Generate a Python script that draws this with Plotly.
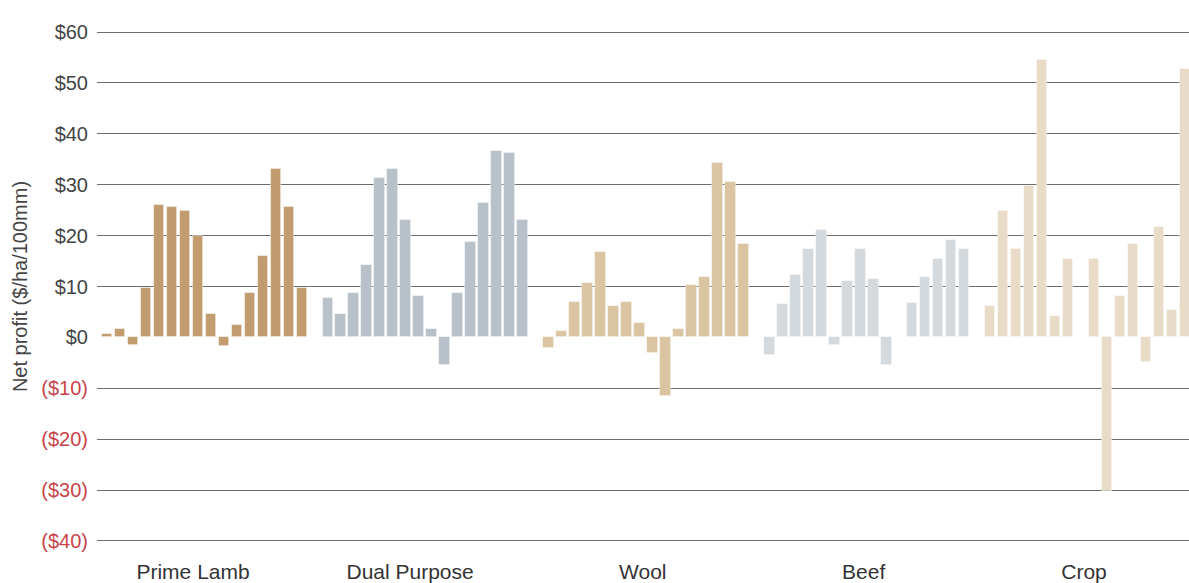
import plotly.graph_objects as go

# net profit per farm, $/ha/100mm
groups = ["Prime Lamb", "Dual Purpose", "Wool", "Beef", "Crop"]
prime_lamb = [0.7, 1.6, -1.4, 9.7, 26.1, 25.6, 24.9, 19.9, 4.5, -1.6, 2.5, 8.8, 15.9, 33.0, 25.6, 9.7]
dual_purpose = [7.8, 4.5, 8.7, 14.3, 31.3, 33.0, 23.1, 8.2, 1.6, -5.4, 8.7, 18.8, 26.4, 36.6, 36.2, 23.1]
wool = [-2.1, 1.2, 6.9, 10.6, 16.8, 6.1, 6.9, 2.9, -3.0, -11.6, 1.6, 10.2, 11.9, 34.2, 30.5, 18.3]
beef = [-3.4, 6.6, 12.3, 17.4, 21.1, -1.4, 11.0, 17.4, 11.4, -5.4, None, 6.8, 11.9, 15.4, 19.1, 17.4]
crop = [6.1, 24.9, 17.3, 29.7, 54.5, 4.2, 15.4, None, 15.4, -30.2, 8.2, 18.3, -4.9, 21.6, 5.3, 52.8]

y_ticks = [60, 50, 40, 30, 20, 10, 0, -10, -20, -30, -40]

series = [prime_lamb, dual_purpose, wool, beef, crop]
colors = ["#c09c6e", "#b8c1c9", "#dbc4a2", "#d4d9de", "#e8dbc7"]

slots = 17  # 16 bars + one empty slot between groups

fig = go.Figure()
for g, (name, vals) in enumerate(zip(groups, series)):
    fig.add_trace(
        go.Bar(
            x=[g * slots + i for i in range(len(vals))],
            y=vals,
            name=name,
            width=0.78,
            marker=dict(color=colors[g], line=dict(color="rgba(255,255,255,0.5)", width=0.8)),
        )
    )


def fmt(v):
    if v < 0:
        return '<span style="color:#c8444a">($%d)</span>' % abs(v)
    return "$%d" % v


# group label centres (slightly left of centre for the first two, as in the original)
label_shift = [6.65, 6.35, 7.25, 7.25, 7.2]

fig.update_layout(
    width=1189,
    height=583,
    margin=dict(l=97, r=0, t=31, b=38),
    plot_bgcolor="white",
    paper_bgcolor="white",
    showlegend=False,
    bargap=0,
    font=dict(family="Liberation Sans, Arial, sans-serif", size=20, color="#444444"),
    xaxis=dict(
        range=[-0.74, 83.28],
        tickvals=[g * slots + s for g, s in enumerate(label_shift)],
        ticktext=groups,
        showgrid=False,
        zeroline=False,
        showline=False,
        ticks="outside",
        ticklen=11,
        tickcolor="white",
        tickfont=dict(size=21, color="#333333"),
    ),
    yaxis=dict(
        range=[-40.2, 60.2],
        tickvals=y_ticks,
        ticktext=[fmt(v) for v in y_ticks],
        showgrid=True,
        gridcolor="#6e6e6e",
        gridwidth=1,
        zeroline=True,
        zerolinecolor="white",
        zerolinewidth=2,
        showline=False,
        ticks="outside",
        ticklen=4,
        tickcolor="white",
        tickfont=dict(size=20, color="#444444"),
        title=dict(text="Net profit ($/ha/100mm)", font=dict(size=20, color="#444444"), standoff=8),
    ),
)

fig.write_html(
    "out.html",
    config={"displayModeBar": False},
    post_script="document.body.style.margin='0';",
)
